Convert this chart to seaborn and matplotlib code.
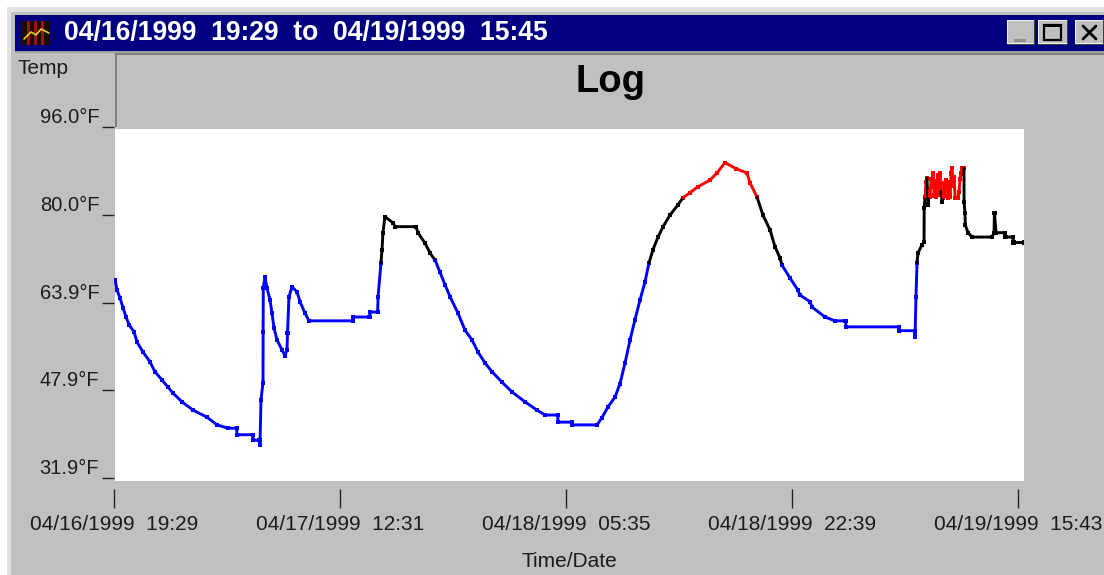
import numpy as np
import pandas as pd
import seaborn as sns
import matplotlib.pyplot as plt
from matplotlib.patches import Rectangle

# hours since 04/16/1999 19:29
hours = [0.08, 0.23, 0.45, 0.68, 0.91, 1.13, 1.51, 1.74, 2.19, 2.72, 3.09, 3.62, 4.07, 4.45, 5.13, 5.96,
         7.02, 7.77, 8.60, 9.25, 9.28, 10.46, 10.49, 10.98, 11.01, 11.09, 11.24, 11.25, 11.26, 11.39, 11.54,
         11.77, 11.92, 12.07, 12.30, 12.67, 12.90, 13.05, 13.09, 13.20, 13.43, 13.81, 14.03, 14.41, 14.71,
         18.00, 18.03, 19.28, 19.31, 19.89, 19.92, 20.14, 20.22, 20.29, 20.44, 21.05, 21.20, 22.78, 22.93,
         23.46, 23.84, 24.22, 24.59, 24.97, 25.35, 25.95, 26.48, 27.01, 27.46, 27.99, 28.52, 29.27, 30.03,
         31.01, 31.91, 32.51, 33.47, 33.50, 34.52, 34.55, 36.44, 36.81, 37.27, 37.80, 38.17, 38.55, 38.93,
         39.30, 39.68, 40.06, 40.36, 40.66, 41.04, 41.42, 41.94, 42.55, 42.93, 43.45, 44.06, 44.96, 45.49,
         46.09, 46.92, 47.75, 47.98, 48.51, 48.96, 49.49, 49.87, 50.24, 50.39, 51.00, 51.60, 51.75, 52.51,
         52.66, 53.64, 54.39, 55.19, 55.22, 59.19, 59.22, 60.40, 60.43, 60.50, 60.58, 60.65, 60.96, 61.11,
         61.12, 61.18, 61.26, 61.33, 61.41, 61.48, 61.56, 61.64, 61.71, 61.79, 61.87, 61.94, 62.02, 62.09,
         62.16, 62.24, 62.31, 62.39, 62.47, 62.54, 62.62, 62.70, 62.77, 62.85, 62.92, 63.00, 63.07, 63.15,
         63.22, 63.30, 63.38, 63.45, 63.67, 63.75, 63.82, 63.90, 63.97, 64.12,
         64.13, 64.20, 64.22, 64.43, 64.73, 66.24, 66.39, 66.42, 66.54, 67.22, 67.25,
         67.82, 67.86, 68.65]
temps = [68.1, 66.2, 64.8, 63.0, 61.3, 59.9, 58.6, 56.7, 54.9, 53.1, 51.3, 49.8, 48.5, 47.4, 45.8, 44.3,
         43.0, 41.6, 41.0, 41.0, 39.8, 39.8, 38.8, 38.8, 37.9, 46.2, 49.3, 58.6, 66.6, 68.6, 66.6,
         64.4, 62.0, 59.3, 57.1, 55.3, 54.2, 55.3, 58.4, 65.0, 66.8, 65.9, 64.1, 62.0, 60.6,
         60.6, 61.3, 61.3, 62.2, 62.2, 65.0, 71.2, 73.6, 76.7, 79.6, 78.5, 77.8, 77.8, 76.7,
         74.8, 73.0, 71.7, 69.5, 67.2, 65.0, 62.0, 58.9, 57.1, 54.9, 52.9, 51.3, 49.4, 47.6,
         45.8, 44.3, 43.4, 43.4, 42.1, 42.1, 41.6, 41.6, 42.9, 44.9, 46.7, 49.1, 52.9, 57.1,
         60.8, 64.4, 67.7, 71.2, 73.6, 75.9, 77.8, 79.9, 81.8, 83.1, 84.0, 85.1, 86.3, 87.6,
         89.5, 88.4, 87.6, 85.8, 83.2, 79.9, 77.2, 74.1, 72.1, 70.8, 68.4, 66.2, 65.3, 64.1,
         63.1, 61.3, 60.6, 60.6, 59.5, 59.5, 58.8, 58.8, 57.7, 65.0, 71.2, 73.0, 74.5, 75.0,
         81.2, 83.2, 86.0, 86.7, 81.8, 84.5, 83.2, 86.5, 85.0, 87.6, 83.5, 86.2, 83.2, 85.5,
         87.3, 83.6, 87.6, 84.2, 82.3, 83.1, 85.8, 83.4, 86.3, 84.0, 83.1, 85.9, 83.2, 87.5,
         88.5, 85.2, 86.8, 83.1, 83.1, 84.2, 86.5, 87.5, 88.5, 88.5,
         82.3, 80.3, 78.1, 76.7, 75.9, 75.9, 76.7, 80.3, 76.7, 76.7, 75.9,
         75.9, 74.9, 74.9]

x_ticks = [0.0, 17.05, 34.10, 51.17, 68.23]
x_labels = ['04/16/1999  19:29', '04/17/1999  12:31', '04/18/1999  05:35',
            '04/18/1999  22:39', '04/19/1999  15:43']
y_ticks = [96.0, 80.0, 63.9, 47.9, 31.9]
y_labels = ['96.0°F', '80.0°F', '63.9°F', '47.9°F', '31.9°F']
window_title = '04/16/1999  19:29  to  04/19/1999  15:45'

colors = {'cool': '#0000ff', 'ok': '#000000', 'hot': '#ff0000'}

df = pd.DataFrame({'hours': hours, 'temp': temps})
df['band'] = np.select([df.temp < 72, df.temp < 83], ['cool', 'ok'], 'hot')
df['seg'] = (df.band != df.band.shift()).cumsum()

W, H = 1104, 575
sns.set_theme(style='white')
plt.rcParams['font.family'] = ['Liberation Sans', 'DejaVu Sans']
text_col = '#1c1c1c'

fig = plt.figure(figsize=(W / 100, H / 100), dpi=100, facecolor='white')

# window frame, in pixels
bg = fig.add_axes([0, 0, 1, 1], zorder=0)
bg.set_xlim(0, W)
bg.set_ylim(H, 0)
bg.axis('off')


def box(x0, y0, x1, y1, c):
    bg.add_patch(Rectangle((x0, y0), x1 - x0, y1 - y0, fc=c, ec='none'))


box(7, 7, W, H, '#e2e2e2')
box(11, 12, W, H, '#c0c0c0')
box(15, 15, W, 51, '#000080')
box(15, 51, W, 53, '#a0a0a0')
box(116, 53, W, 55, '#808080')
box(115, 53, 117, 127, '#808080')
box(115, 129, 1024, 481, 'white')

# little icon in the title bar
box(21, 21, 50, 45, '#1a0d00')
for bx in [27, 34, 41]:
    box(bx, 21, bx + 3, 45, '#a01010')
bg.plot([24, 31, 36, 41, 49], [39, 32, 35, 29, 33], color='#e0d020', lw=1.2)

# minimise / maximise / close buttons
for x0, x1 in [(1007, 1035), (1038, 1068), (1075, W)]:
    box(x0, 20, x1, 45, '#404040')
    box(x0, 20, x1 - 1, 44, '#f0f0f0')
    box(x0 + 1, 21, x1 - 1, 43, '#c0c0c0')
box(1014, 39, 1026, 42, '#909090')
bg.add_patch(Rectangle((1044, 25), 17, 15, fc='none', ec='black', lw=1.6))
box(1044, 24, 1061, 27, 'black')
bg.plot([1083, 1096], [26, 39], color='black', lw=2)
bg.plot([1083, 1096], [39, 26], color='black', lw=2)

bg.text(64, 33, window_title, color='white', fontsize=19.1, fontweight='bold', va='center', ha='left')
bg.text(17, 69, 'Temp', color=text_col, fontsize=15, va='center', ha='left')
bg.text(610, 82, 'Log', color='black', fontsize=27.5, fontweight='bold', va='center', ha='center')

# chart area
ax = fig.add_axes([114 / W, 1 - 481 / H, (1024 - 114) / W, (481 - 127) / H], zorder=1)
ax.patch.set_visible(False)

# black pieces take the joins to their neighbours
for s in df.seg.unique():
    idx = df.index[df.seg == s]
    band = df.band[idx[0]]
    a, b = idx[0], idx[-1] + 1
    if band == 'ok':
        a, b = max(a - 1, 0), b + 1
    sns.lineplot(data=df.iloc[a:b], x='hours', y='temp', color=colors[band], lw=2.1,
                 estimator=None, sort=False, ax=ax)
sns.scatterplot(data=df, x='hours', y='temp', hue='band', palette=colors, marker='s', s=9,
                linewidth=0, legend=False, ax=ax)

ax.set_xlim(0, 68.65)
ax.set_ylim(31.35, 96.0)
ax.set_xticks(x_ticks, x_labels)
ax.set_yticks(y_ticks, y_labels)
ax.set_xlabel('Time/Date', fontsize=15, color=text_col, labelpad=13)
ax.set_ylabel('')
for sp in ax.spines.values():
    sp.set_visible(False)
ax.spines['bottom'].set_position(('outward', 5.5))
ax.tick_params(axis='x', bottom=True, length=13.7, width=1, color='#222222', pad=5, labelsize=15, labelcolor=text_col)
ax.tick_params(axis='y', left=True, length=8.6, width=1, color='#222222', pad=2, labelsize=14.5, labelcolor=text_col)
for lab in ax.get_yticklabels():
    lab.set_va('bottom')

fig.savefig('out.png', dpi=100, facecolor=fig.get_facecolor())
